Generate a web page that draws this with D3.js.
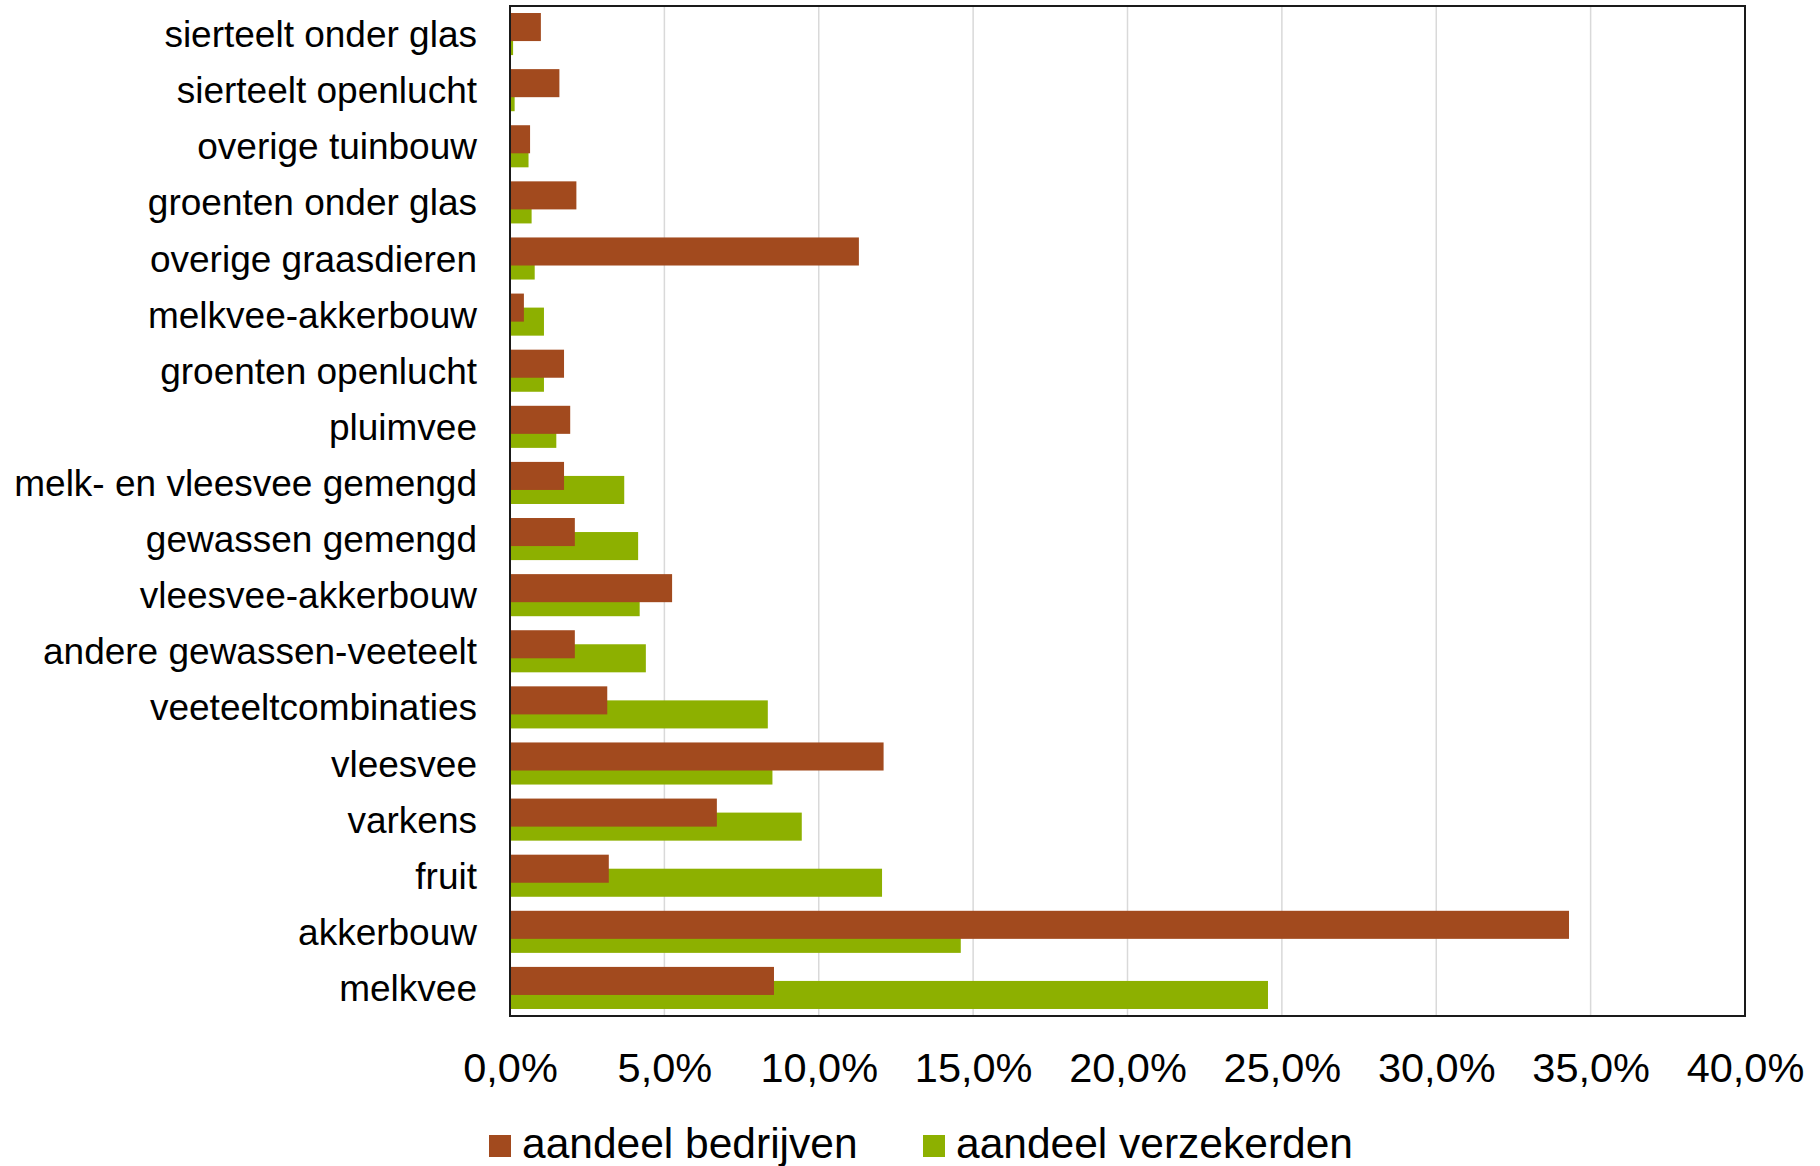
<!DOCTYPE html>
<html>
<head>
<meta charset="utf-8">
<script src="https://cdnjs.cloudflare.com/ajax/libs/d3/7.8.5/d3.min.js"></script>
<style>
	body{ margin:0; background:#fff; }
	svg text{ font-family:Arial, "Liberation Sans", sans-serif; fill:#000; }
</style>
</head>
<body>
<svg id="chart" width="1820" height="1166"></svg>
<script>

// Categories from top to bottom, values in percent.
let categories = [
	"sierteelt onder glas",
	"sierteelt openlucht",
	"overige tuinbouw",
	"groenten onder glas",
	"overige graasdieren",
	"melkvee-akkerbouw",
	"groenten openlucht",
	"pluimvee",
	"melk- en vleesvee gemengd",
	"gewassen gemengd",
	"vleesvee-akkerbouw",
	"andere gewassen-veeteelt",
	"veeteeltcombinaties",
	"vleesvee",
	"varkens",
	"fruit",
	"akkerbouw",
	"melkvee"
];

let aandeelBedrijven = [1.0, 1.6, 0.65, 2.15, 11.3, 0.45, 1.75, 1.95, 1.75, 2.1, 5.25, 2.1, 3.15, 12.1, 6.7, 3.2, 34.3, 8.55];

let aandeelVerzekerden = [0.1, 0.15, 0.6, 0.7, 0.8, 1.1, 1.1, 1.5, 3.7, 4.15, 4.2, 4.4, 8.35, 8.5, 9.45, 12.05, 14.6, 24.55];

let tickValues = [0, 5, 10, 15, 20, 25, 30, 35, 40];

let seriesNames = ["aandeel bedrijven", "aandeel verzekerden"];
let seriesColors = ["#a24a1e", "#8db000"];


let svg = d3.select("#chart");

let plot = {left:510, right:1745, top:6, bottom:1016};

let x = d3.scaleLinear()
	.domain([0, 40])
	.range([plot.left, plot.right]);

let y = d3.scaleBand()
	.domain(categories)
	.range([plot.top, plot.bottom]);

// Bars are 1/2 band high, the second series shifted by half a bar (50% overlap).
let barH = y.bandwidth()*0.5;
let shift = barH*0.5;
let offset = (y.bandwidth() - barH - shift)/2;


// Gridlines
svg.append("g")
  .selectAll("line")
  .data(tickValues.slice(1, -1))
  .join("line")
	.attr("x1", d=>x(d))
	.attr("x2", d=>x(d))
	.attr("y1", plot.top)
	.attr("y2", plot.bottom)
	.attr("stroke", "#d9d9d9")
	.attr("stroke-width", 1.5);


// Green first so the brown bars sit on top.
let rows = categories.map((c,i)=>({cat:c, b:aandeelBedrijven[i], v:aandeelVerzekerden[i]}));

svg.append("g")
  .selectAll("rect")
  .data(rows)
  .join("rect")
	.attr("x", x(0))
	.attr("y", d=>y(d.cat) + offset + shift)
	.attr("width", d=>x(d.v) - x(0))
	.attr("height", barH)
	.attr("fill", seriesColors[1]);

svg.append("g")
  .selectAll("rect")
  .data(rows)
  .join("rect")
	.attr("x", x(0))
	.attr("y", d=>y(d.cat) + offset)
	.attr("width", d=>x(d.b) - x(0))
	.attr("height", barH)
	.attr("fill", seriesColors[0]);


// Plot area border
svg.append("rect")
	.attr("x", plot.left)
	.attr("y", plot.top)
	.attr("width", plot.right - plot.left)
	.attr("height", plot.bottom - plot.top)
	.attr("fill", "none")
	.attr("stroke", "#1a1a1a")
	.attr("stroke-width", 2);


// Category labels
svg.append("g")
  .selectAll("text")
  .data(categories)
  .join("text")
	.attr("x", 477)
	.attr("y", d=>y(d) + y.bandwidth()/2 + 13)
	.attr("text-anchor", "end")
	.attr("font-size", 37)
	.text(d=>d);


// x axis labels
let xAxis = d3.axisBottom(x)
	.tickValues(tickValues)
	.tickSize(0)
	.tickPadding(0)
	.tickFormat(d=>d.toFixed(1).replace(".", ",") + "%");

let gx = svg.append("g")
	.attr("transform", `translate(0,${plot.bottom})`)
	.call(xAxis);
gx.select(".domain").remove();
gx.selectAll("text")
	.attr("dy", null)
	.attr("y", 66)
	.attr("font-size", 41.5)
	.attr("font-family", null)
	.style("fill", "#000");


// Legend
let legendX = [489, 923];

let legend = svg.append("g")
  .selectAll("g")
  .data(seriesNames)
  .join("g")
	.attr("transform", (d,i)=>`translate(${legendX[i]},1135)`);

legend.append("rect")
	.attr("width", 22)
	.attr("height", 22)
	.attr("fill", (d,i)=>seriesColors[i]);

legend.append("text")
	.attr("x", 33)
	.attr("y", 23)
	.attr("font-size", 42.5)
	.text(d=>d);

</script>
</body>
</html>
